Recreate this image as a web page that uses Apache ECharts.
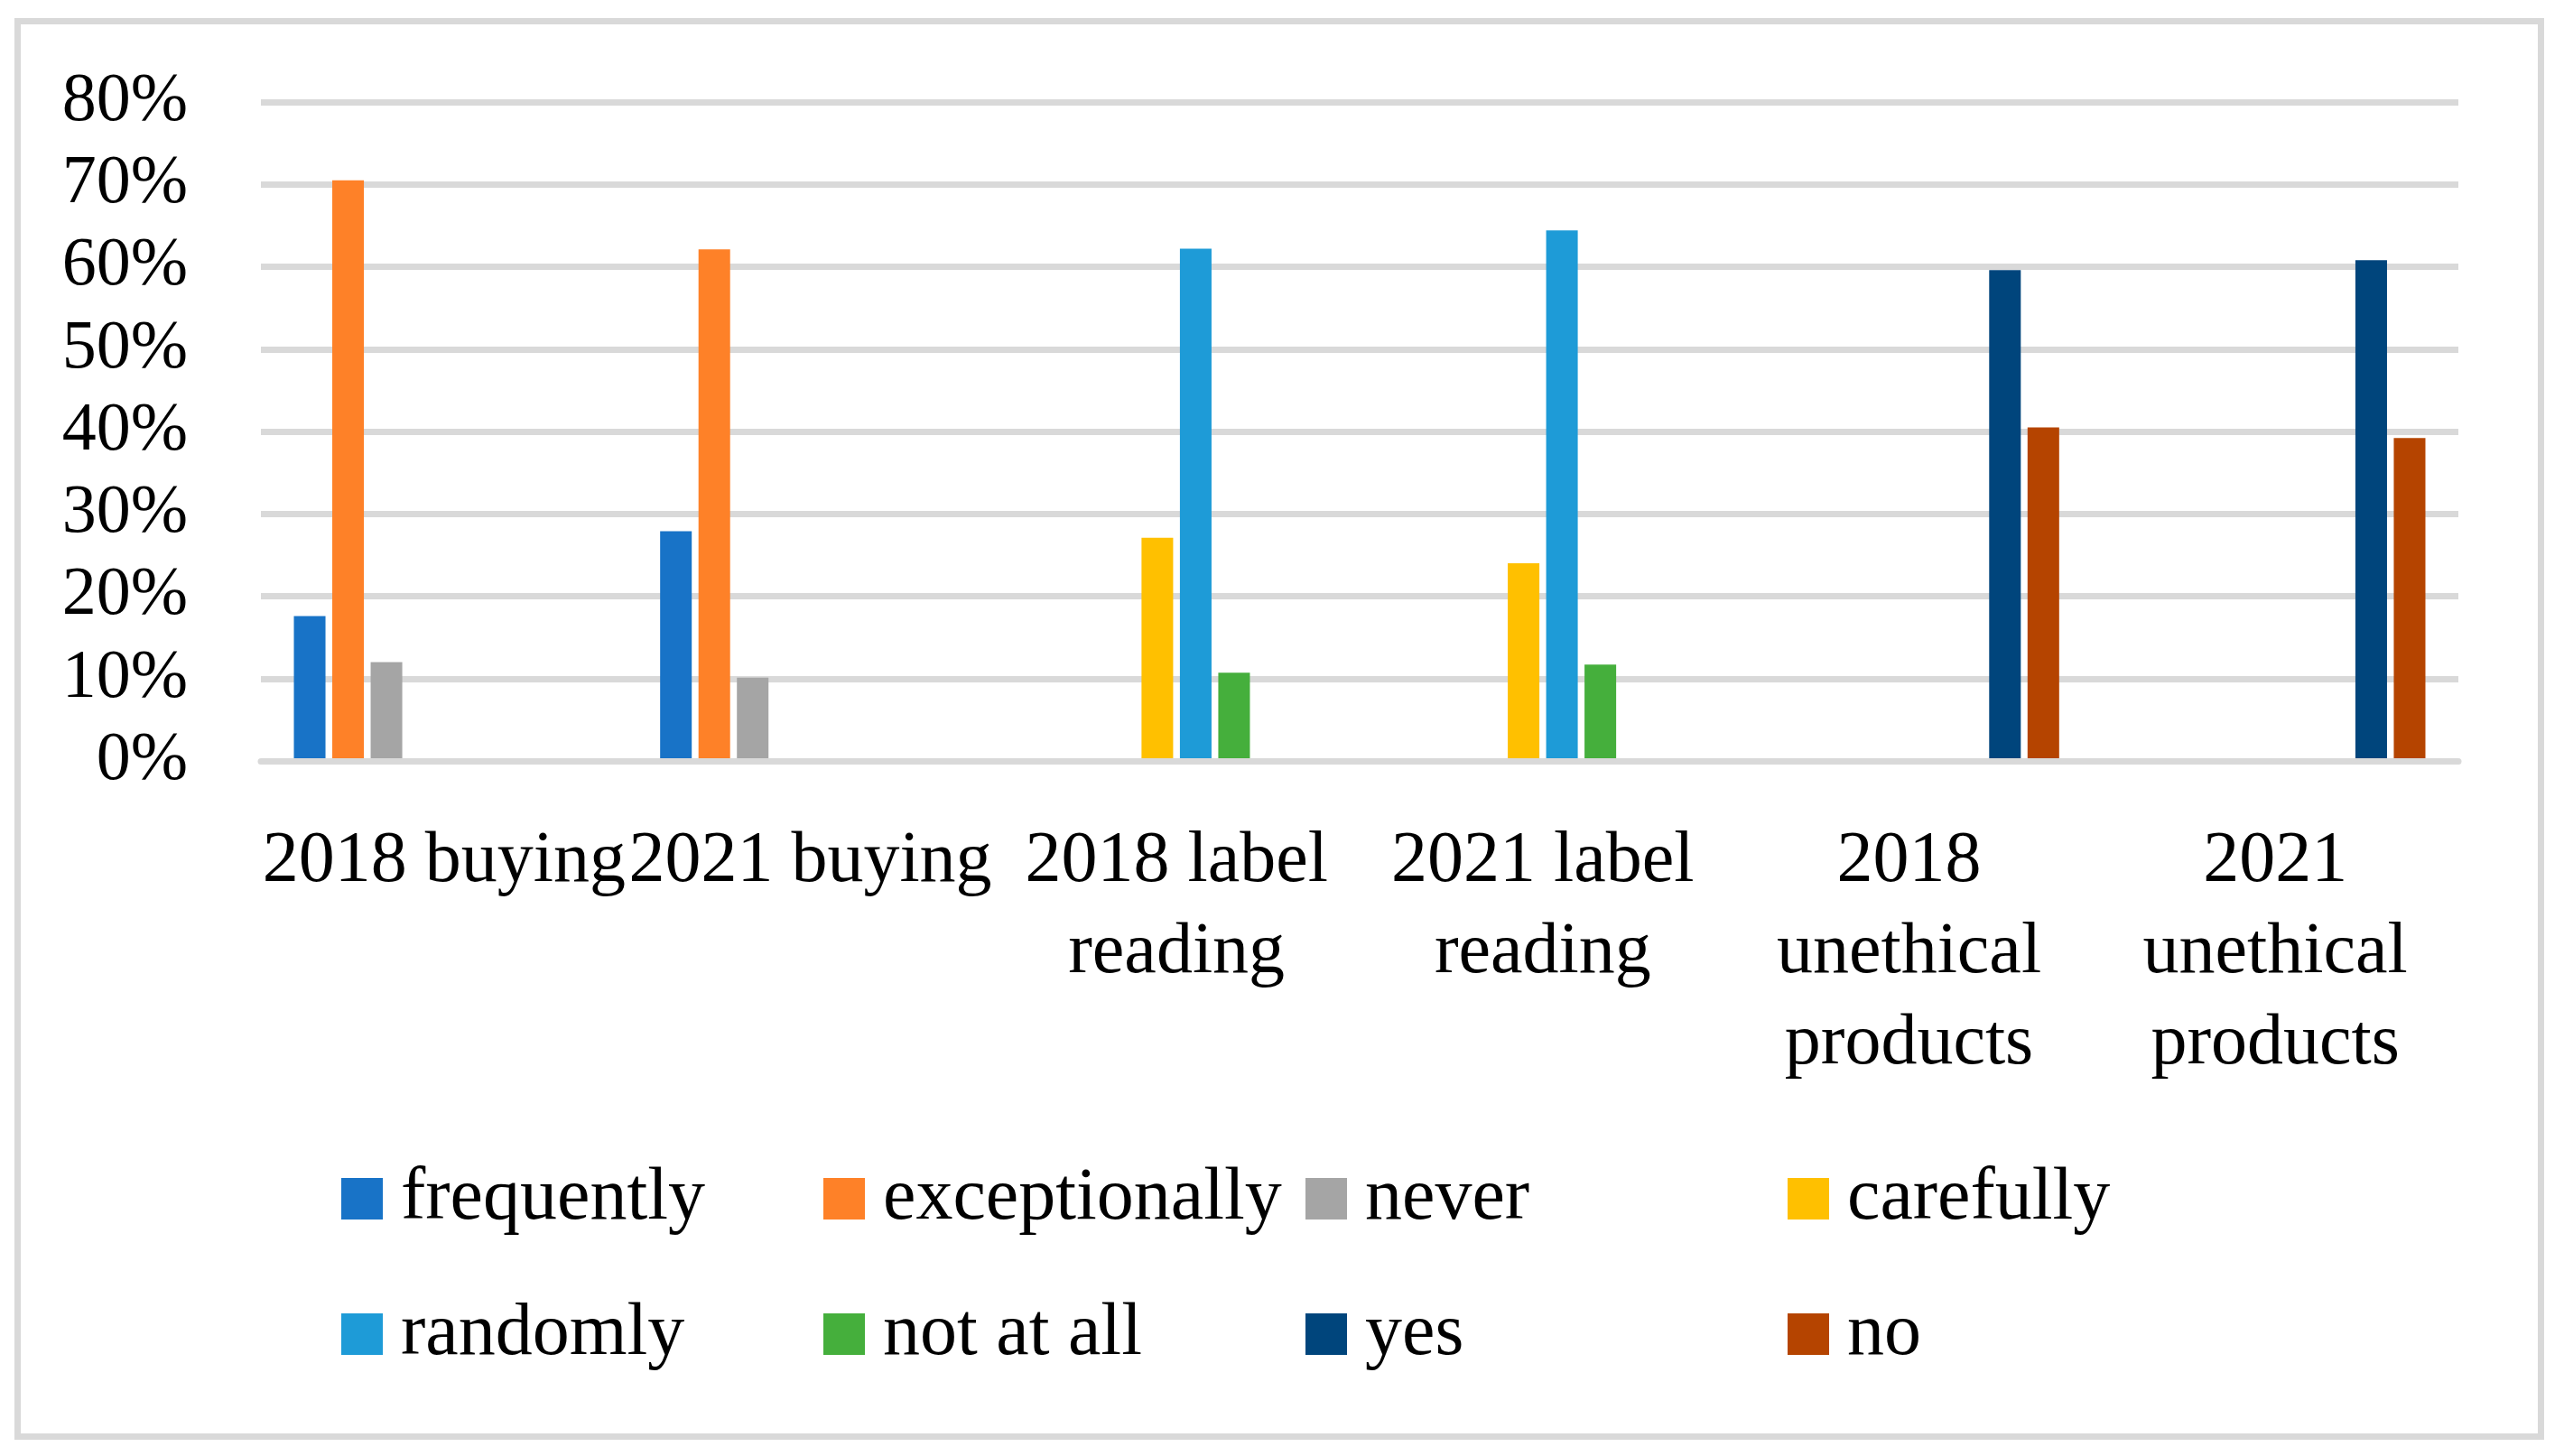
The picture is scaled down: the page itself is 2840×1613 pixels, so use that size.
<!DOCTYPE html>
<html>
<head>
<meta charset="utf-8">
<script src="https://cdn.jsdelivr.net/npm/echarts@6/dist/echarts.min.js"></script>
<style>html,body{margin:0;padding:0;background:#fff;}#c{width:2840px;height:1613px;}</style>
</head>
<body>
<div id="c"></div>
<script>
const categories = ['2018 buying', '2021 buying', '2018 label\nreading', '2021 label\nreading', '2018\nunethical\nproducts', '2021\nunethical\nproducts'];
const yTicks = [0, 10, 20, 30, 40, 50, 60, 70, 80];
const seriesNames = ['frequently', 'exceptionally', 'never', 'carefully', 'randomly', 'not at all', 'yes', 'no'];
const frequently    = [17.6, 27.9, null, null, null, null];
const exceptionally = [70.5, 62.1, null, null, null, null];
const never         = [12.0, 10.1, null, null, null, null];
const carefully     = [null, null, 27.1, 24.0, null, null];
const randomly      = [null, null, 62.2, 64.4, null, null];
const notAtAll      = [null, null, 10.7, 11.7, null, null];
const yes           = [null, null, null, null, 59.6, 60.8];
const no            = [null, null, null, null, 40.5, 39.2];
const seriesValues = [frequently, exceptionally, never, carefully, randomly, notAtAll, yes, no];
const colors = ['#1873C7', '#FE8128', '#A5A5A5', '#FFC000', '#1E9BD7', '#45AF3C', '#00457C', '#B54400'];

const FONT = 'Liberation Serif';
const legendCols = [378, 912, 1446, 1980];
const legendRows = [1287, 1437];
const legends = seriesNames.map((n, i) => ({
  left: legendCols[i % 4], top: legendRows[Math.floor(i / 4)],
  orient: 'horizontal', padding: 0,
  itemWidth: 46, itemHeight: 46, itemGap: 0,
  icon: 'rect',
  data: [n],
  textStyle: {fontFamily: FONT, fontSize: 82, color: '#000', padding: [0, 0, 0, 15]}
}));

const chart = echarts.init(document.getElementById('c'), null, {renderer: 'canvas'});
chart.setOption({
  backgroundColor: '#ffffff',
  animation: false,
  color: colors,
  graphic: [{
    type: 'rect', left: 16, top: 20, z: -10,
    shape: {x: 0, y: 0, width: 2795, height: 1568},
    style: {fill: 'none', stroke: '#d9d9d9', lineWidth: 7}
  }],
  grid: {left: 289, right: 117, top: 113, bottom: 770, containLabel: false},
  legend: legends,
  xAxis: {
    type: 'category', data: categories, z: 3,
    axisTick: {show: false},
    axisLine: {show: true, lineStyle: {color: '#d9d9d9', width: 7}},
    axisLabel: {interval: 0, fontFamily: FONT, fontSize: 80, color: '#000', lineHeight: 101, margin: 61}
  },
  yAxis: {
    type: 'value', min: 0, max: 80, interval: 10,
    axisLine: {show: false}, axisTick: {show: false},
    splitLine: {lineStyle: {color: '#d9d9d9', width: 7}},
    axisLabel: {formatter: v => v + '%', fontFamily: FONT, fontSize: 76, color: '#000', margin: 81}
  },
  series: seriesNames.map((n, i) => ({
    name: n, type: 'bar', data: seriesValues[i],
    barGap: '21.4%', barCategoryGap: '18%',
    itemStyle: {color: colors[i]}
  }))
});
</script>
</body>
</html>
